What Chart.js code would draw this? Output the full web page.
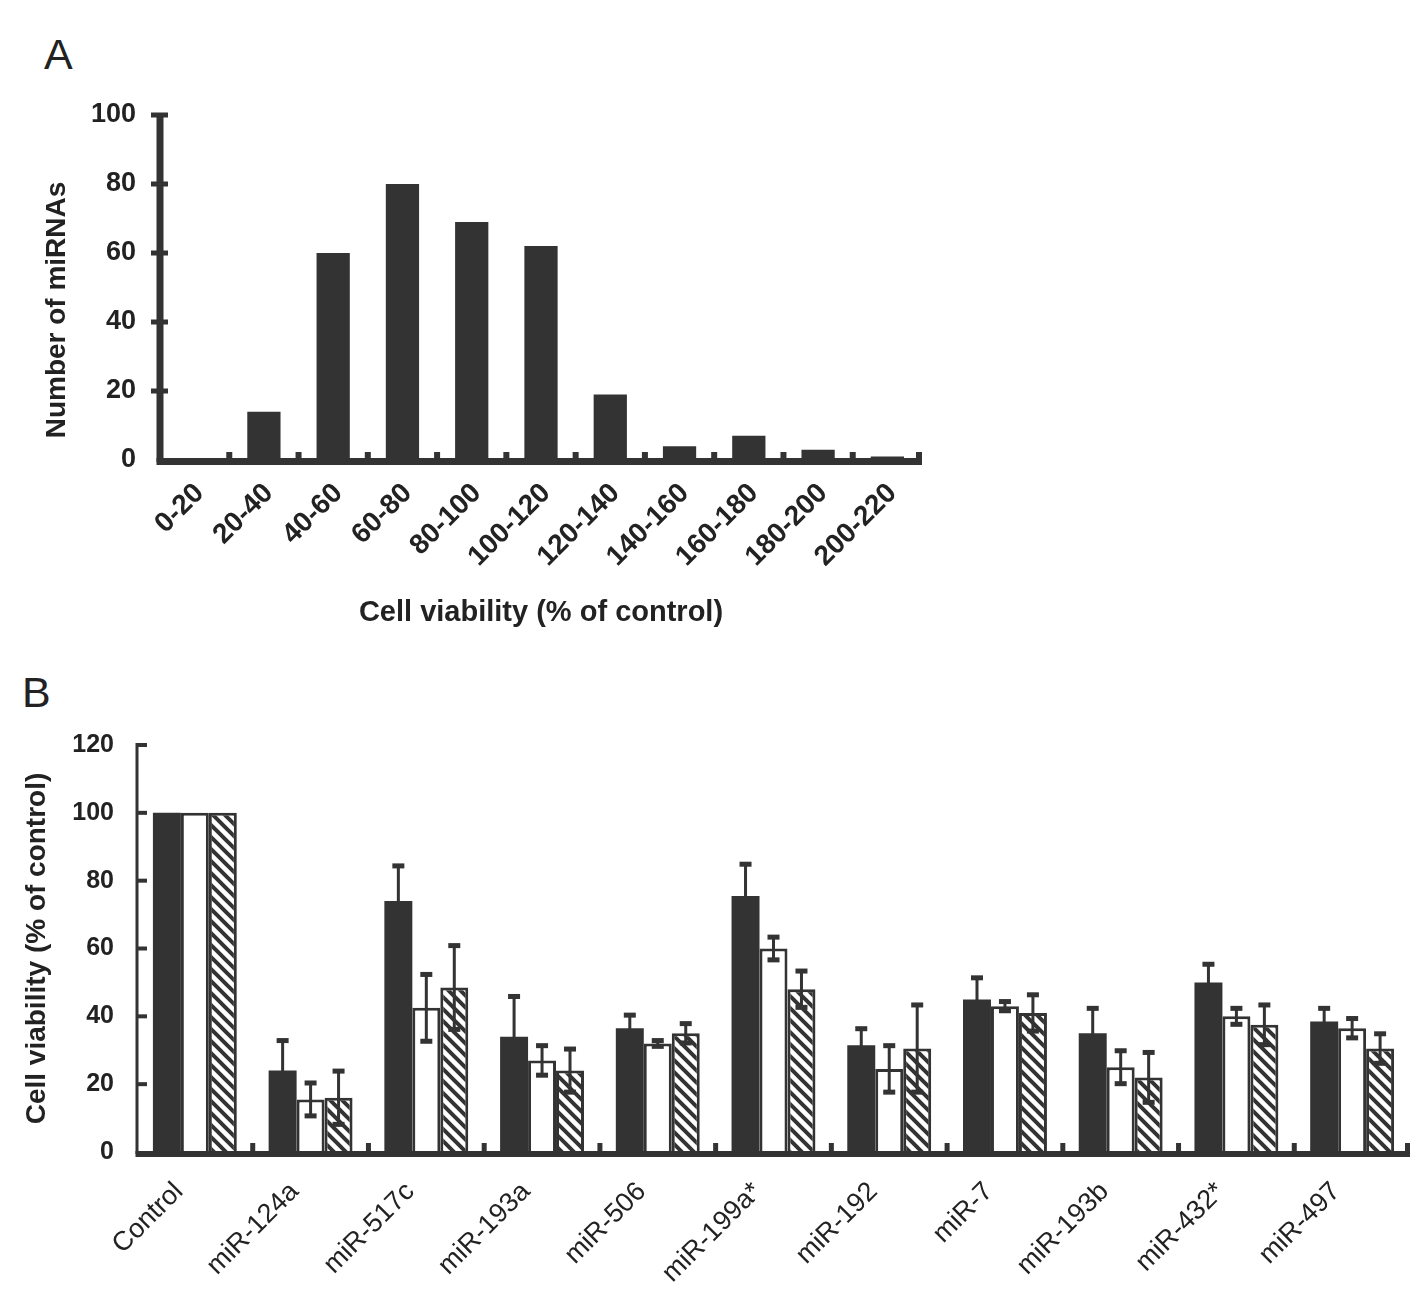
<!DOCTYPE html>
<html><head><meta charset="utf-8">
<script src="https://cdn.jsdelivr.net/npm/chart.js@4.4.1/dist/chart.umd.min.js"></script>
<style>
html,body{margin:0;padding:0;background:#fff;width:1417px;height:1298px;overflow:hidden;}
.panel{position:absolute;font-family:"Liberation Sans",Arial,sans-serif;color:#222;font-size:43px;line-height:43px;}
canvas{position:absolute;}
</style></head><body>
<div class="panel" style="left:44px;top:33px">A</div>
<div class="panel" style="left:22px;top:671px">B</div>
<canvas id="cA" width="950" height="650" style="left:0;top:0"></canvas>
<canvas id="cB" width="1417" height="648" style="left:0;top:650px"></canvas>
<script>
// ---- Panel A data ----
const binLabels = ['0-20','20-40','40-60','60-80','80-100','100-120','120-140','140-160','160-180','180-200','200-220'];
const binCounts = [0, 14, 60, 80, 69, 62, 19, 4, 7, 3, 1];
const yTicksA = {min: 0, max: 100, step: 20};

// ---- Panel B data ----
const mirnaLabels = ['Control','miR-124a','miR-517c','miR-193a','miR-506','miR-199a*','miR-192','miR-7','miR-193b','miR-432*','miR-497'];
const viabilityDark    = [100, 24,   74,   34,   36.5, 75.5, 31.5, 45,   35,   50,   38.5];
const errDark          = [0,   9,    10.5, 12,   4,    9.5,  5,    6.5,  7.5,  5.5,  4];
const viabilityWhite   = [100, 15.5, 42.5, 27,   32,   60,   24.5, 43,   25,   40,   36.5];
const errWhite         = [0,   5,    10,   4.5,  1,    3.5,  7,    1.5,  5,    2.5,  3];
const viabilityHatched = [100, 16,   48.5, 24,   35,   48,   30.5, 41,   22,   37.5, 30.5];
const errHatched       = [0,   8,    12.5, 6.5,  3,    5.5,  13,   5.5,  7.5,  6,    4.5];
const yTicksB = {min: 0, max: 120, step: 20};

const DARK = '#333333';
const TEXT = '#222222';
const FAMILY = '"Liberation Sans", Arial, sans-serif';

function hatchPattern() {
  const c = document.createElement('canvas'); c.width = 12; c.height = 12;
  const g = c.getContext('2d');
  g.fillStyle = '#fff'; g.fillRect(0, 0, 12, 12);
  g.strokeStyle = DARK; g.lineWidth = 4;
  g.beginPath();
  g.moveTo(-3, -3); g.lineTo(15, 15);
  g.moveTo(-3, 9); g.lineTo(3, 15);
  g.moveTo(9, -3); g.lineTo(15, 3);
  g.stroke();
  return g.createPattern(c, 'repeat');
}

const axisDecor = {
  id: 'axisDecor',
  afterDatasetsDraw(chart, args, o) {
    const {ctx, chartArea: a, scales: {x, y}} = chart;
    ctx.save();
    ctx.fillStyle = DARK;
    ctx.fillRect(a.left - o.yLine / 2, a.top - 2, o.yLine, a.bottom - a.top + 4);
    ctx.fillRect(a.left - o.yLine / 2, a.bottom + o.xTop, a.right - a.left + o.yLine / 2, o.xLine);
    y.ticks.forEach(t => {
      if (t.value === 0) return;
      const py = y.getPixelForValue(t.value);
      ctx.fillRect(a.left + o.yTickFrom, py - o.yTickW / 2, o.yTickTo - o.yTickFrom, o.yTickW);
    });
    const n = x.ticks.length;
    for (let i = 1; i <= n; i++) {
      const px = i < n ? (x.getPixelForValue(i - 1) + x.getPixelForValue(i)) / 2 : a.right - o.xTickW / 2;
      ctx.fillRect(px - o.xTickW / 2, a.bottom + o.xTop - o.xTickH, o.xTickW, o.xTickH);
    }
    ctx.restore();
  }
};

const sideTitle = {
  id: 'sideTitle',
  afterDraw(chart, args, o) {
    if (!o.text) return;
    const ctx = chart.ctx;
    ctx.save();
    ctx.translate(o.x, o.y);
    ctx.rotate(-Math.PI / 2);
    ctx.font = o.font;
    ctx.fillStyle = TEXT;
    ctx.textAlign = 'center';
    ctx.textBaseline = 'middle';
    ctx.fillText(o.text, 0, 0);
    ctx.restore();
  }
};

const errorBars = {
  id: 'errorBars',
  afterDatasetsDraw(chart) {
    const ctx = chart.ctx, y = chart.scales.y;
    chart.data.datasets.forEach((ds, i) => {
      if (!ds.errors) return;
      const meta = chart.getDatasetMeta(i);
      meta.data.forEach((bar, j) => {
        const e = ds.errors[j];
        if (!e) return;
        const v = ds.data[j];
        const yHi = y.getPixelForValue(v + e), yLo = y.getPixelForValue(v - e);
        const x = bar.x;
        ctx.save();
        ctx.fillStyle = DARK;
        ctx.fillRect(x - 1.5, yHi, 3, yLo - yHi);
        ctx.fillRect(x - 6, yHi - 2, 12, 5);
        ctx.fillRect(x - 6, yLo - 3, 12, 5);
        ctx.restore();
      });
    });
  }
};

// ---------- Chart A ----------
new Chart(document.getElementById('cA'), {
  type: 'bar',
  data: {
    labels: binLabels,
    datasets: [{data: binCounts, backgroundColor: DARK, borderWidth: 0, barPercentage: 0.48, categoryPercentage: 1}]
  },
  options: {
    responsive: false, animation: false, devicePixelRatio: 1,
    layout: {padding: {left: 0, right: 28, top: 115, bottom: 0}},
    plugins: {
      legend: {display: false}, tooltip: {enabled: false},
      axisDecor: {yLine: 7, xLine: 7, xTop: -2, yTickFrom: -9, yTickTo: 8, yTickW: 5, xTickW: 6, xTickH: 6},
      sideTitle: {text: 'Number of miRNAs', x: 57, y: 310, font: 'bold 28px ' + FAMILY}
    },
    scales: {
      x: {
        grid: {display: false, drawTicks: false}, border: {display: false},
        ticks: {color: TEXT, font: {family: FAMILY, size: 28, weight: 'bold'}, minRotation: 45, maxRotation: 45, padding: 17, autoSkip: false, labelOffset: 5},
        title: {display: true, text: 'Cell viability (% of control)', color: TEXT, font: {family: FAMILY, size: 29, weight: 'bold'}, padding: {top: 0, bottom: 20}},
        afterFit(s) { s.height = 190; }
      },
      y: {
        min: yTicksA.min, max: yTicksA.max,
        grid: {display: false, drawTicks: false}, border: {display: false},
        ticks: {stepSize: yTicksA.step, color: TEXT, font: {family: FAMILY, size: 27, weight: 'bold'}, padding: 24},
        afterFit(s) { s.width = 160; }
      }
    }
  },
  plugins: [axisDecor, sideTitle]
});

// ---------- Chart B ----------
new Chart(document.getElementById('cB'), {
  type: 'bar',
  data: {
    labels: mirnaLabels,
    datasets: [
      {data: viabilityDark, errors: errDark, backgroundColor: DARK, borderWidth: 0},
      {data: viabilityWhite, errors: errWhite, backgroundColor: '#ffffff', borderColor: DARK, borderWidth: 3},
      {data: viabilityHatched, errors: errHatched, backgroundColor: hatchPattern(), borderColor: DARK, borderWidth: 3}
    ]
  },
  options: {
    responsive: false, animation: false, devicePixelRatio: 1,
    datasets: {bar: {categoryPercentage: 0.725, barPercentage: 1.0}},
    layout: {padding: {left: 0, right: 7, top: 95, bottom: 0}},
    plugins: {
      legend: {display: false}, tooltip: {enabled: false},
      axisDecor: {yLine: 3, xLine: 6, xTop: -1, yTickFrom: 0, yTickTo: 10, yTickW: 4, xTickW: 5, xTickH: 8}
    },
    scales: {
      x: {
        grid: {display: false, drawTicks: false}, border: {display: false},
        ticks: {color: TEXT, font: {family: FAMILY, size: 27}, minRotation: 45, maxRotation: 45, padding: 24, autoSkip: false, labelOffset: -16},
        afterFit(s) { s.height = 146; }
      },
      y: {
        min: yTicksB.min, max: yTicksB.max,
        grid: {display: false, drawTicks: false}, border: {display: false},
        ticks: {stepSize: yTicksB.step, color: TEXT, font: {family: FAMILY, size: 25, weight: 'bold'}, padding: 23},
        title: {display: true, text: 'Cell viability (% of control)', color: TEXT, font: {family: FAMILY, size: 28, weight: 'bold'}, padding: {top: 20, bottom: 0}},
        afterFit(s) { s.width = 137; }
      }
    }
  },
  plugins: [errorBars, axisDecor]
});
</script>
</body></html>
